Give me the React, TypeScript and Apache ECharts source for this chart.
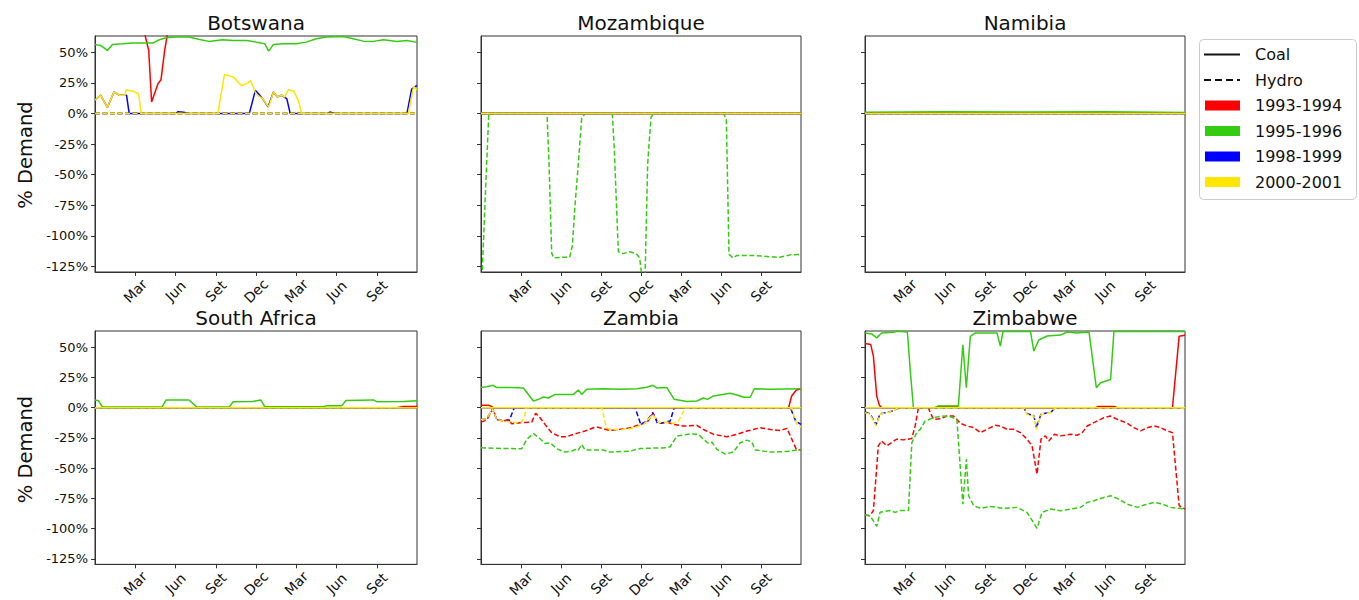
import React, { useEffect, useRef } from "react";
import * as echarts from "echarts";

// ---------- axis / legend data ----------
const monthTicks = [3, 6, 9, 12, 15, 18, 21];
const monthLabels = ["Mar", "Jun", "Set", "Dec", "Mar", "Jun", "Set"];
const yTicks = [50, 25, 0, -25, -50, -75, -100, -125];
const periods = ["1993-1994", "1995-1996", "1998-1999", "2000-2001"];
const periodColors = ["#ff0000", "#33cc11", "#0000ff", "#ffe600"];
const countries = ["Botswana", "Mozambique", "Namibia", "South Africa", "Zambia", "Zimbabwe"];

// x = months since start of the window, y = % demand
const flat0 = [[0, 0], [24, 0]];

// ---------- Botswana ----------
const bwCoal93 = [[0, 80], [3.55, 80], [3.75, 63], [4.0, 52], [4.22, 9.5], [4.7, 24.5], [4.92, 27.7], [5.2, 52], [5.4, 65], [5.6, 80], [24, 80]];
const bwCoal95 = [[0, 56.5], [0.42, 55.7], [0.92, 51.6], [1.3, 56.5], [2.05, 57], [2.8, 57.6], [3.55, 57.6], [4.3, 57.6], [4.8, 60.3], [5.3, 62], [6.0, 62.5], [7.0, 62.5], [7.8, 60.6], [8.5, 59], [9.5, 60.3], [10.3, 59.8], [11.3, 59.8], [12.0, 58.4], [12.65, 57], [12.95, 51], [13.3, 56.5], [14.0, 57], [15.0, 57], [15.75, 58.4], [16.5, 61.1], [17.25, 62.5], [18.5, 63], [19.25, 61.1], [20.0, 59.2], [20.75, 59], [21.5, 60.3], [22.5, 59], [23.25, 59.8], [24, 58.2]];
const bwCoal98 = [[0, 11], [0.42, 15], [0.92, 5], [1.42, 17.7], [1.8, 15], [2.35, 15], [2.55, 0], [6.0, 0], [6.2, 1.5], [6.6, 1], [7.0, 0], [11.5, 0], [11.95, 19], [12.2, 16], [12.5, 12], [12.9, 5.4], [13.3, 17.7], [13.6, 13.6], [13.9, 15], [14.3, 12], [14.55, 0], [17.3, 0], [17.5, 1.2], [17.9, 0], [23.25, 0], [23.6, 20], [24, 23]];
const bwCoal00 = [[0, 11], [0.42, 15], [0.92, 5], [1.42, 17.7], [1.8, 15], [2.25, 15], [2.3, 19.5], [2.9, 18], [3.25, 16], [3.45, 0], [9.15, 0], [9.65, 32], [10.3, 30], [10.9, 23], [11.3, 24.5], [11.6, 27], [12.0, 16], [12.5, 12], [12.95, 5.4], [13.3, 17.7], [13.6, 13.6], [13.9, 15], [14.15, 13.5], [14.4, 19.5], [14.8, 18.5], [15.15, 11], [15.4, 0], [23.35, 0], [23.75, 22], [24, 19.5]];

// ---------- Mozambique ----------
const mzHydro95 = [[0, -140], [0.1, -128], [0.35, -60], [0.58, -1], [0.65, 0], [4.95, 0], [5.1, -40], [5.3, -114], [5.45, -118], [6.0, -117.5], [6.65, -117.5], [6.85, -108], [7.05, -75], [7.3, -41], [7.55, -4], [7.8, 0], [9.85, 0], [10.0, -30], [10.3, -113], [10.65, -114.5], [11.15, -113], [11.65, -114.5], [11.9, -118], [12.05, -132], [12.3, -135], [12.5, -41], [12.75, -3], [12.95, 0], [18.2, 0], [18.4, -5], [18.6, -115], [18.9, -118], [19.2, -116], [20.45, -116], [21.7, -117], [22.4, -117.5], [23.2, -115.5], [24, -115]];

// ---------- Namibia ----------
const nmCoal95 = [[0, 1], [6, 1.5], [12, 1.2], [18, 1.5], [24, 0.8]];

// ---------- South Africa ----------
const saCoal93 = [[0, 0], [22.5, 0], [23, 1], [24, 1]];
const saCoal95 = [[0, 6.4], [0.25, 5.8], [0.55, 0.8], [5.0, 0.5], [5.3, 6.4], [7.0, 6.4], [7.6, 0.5], [10.0, 0.5], [10.3, 5], [11.75, 5.2], [12.35, 6.4], [12.65, 0.8], [17.0, 0.8], [17.3, 1.7], [18.4, 1.7], [18.7, 6], [20.75, 6.4], [21.0, 5], [23.0, 5.2], [24, 5.8]];

// ---------- Zambia ----------
const zmCoal93 = [[0, 2], [0.55, 2], [0.7, 1.5], [0.93, 0], [23.07, 0], [23.3, 9.7], [23.65, 14.6], [24, 15.7]];
const zmCoal95 = [[0, 16.6], [0.43, 17.4], [0.93, 18.5], [1.18, 16.6], [2.18, 16.6], [3.18, 16.3], [3.93, 5.5], [4.3, 6.9], [4.68, 8.8], [5.05, 8], [5.55, 11], [6.93, 11], [7.3, 14.6], [7.56, 11], [7.93, 15.2], [9.18, 15.7], [10.43, 15.2], [11.69, 15.7], [12.44, 16.9], [12.89, 18.5], [13.19, 16.3], [13.94, 16.6], [14.49, 6.9], [15.44, 5.2], [16.19, 5.5], [16.69, 8], [16.99, 6.9], [17.44, 9.7], [18.69, 11.9], [19.19, 10.5], [19.69, 8.6], [20.19, 8.6], [20.5, 15.7], [21.7, 15.2], [24, 15.7]];
const zmHydro93 = [[0, -11.9], [0.43, -10.2], [0.88, -1], [1.18, -9.7], [1.68, -11], [2.05, -9.7], [2.3, -13.3], [2.93, -12.4], [3.8, -11.9], [4.1, -4.7], [4.43, -8.3], [4.8, -13.8], [5.3, -20.7], [5.93, -24], [6.43, -24], [6.93, -22], [7.8, -19.3], [8.43, -16.6], [8.68, -16], [9.18, -17.4], [9.68, -18.8], [10.43, -17.9], [11.19, -16.6], [11.94, -13.8], [12.44, -12.4], [12.89, -4.7], [13.32, -13], [13.94, -11.9], [14.44, -13.8], [15.19, -15.2], [16.19, -14.6], [16.69, -18], [17.44, -22], [18.44, -24], [19.19, -22], [19.94, -19.3], [20.94, -16.6], [21.7, -18], [22.45, -18.8], [22.95, -17.1], [23.32, -26.2], [23.65, -34.5], [24, -35]];
const zmHydro95 = [[0, -33.1], [1.68, -33.7], [3.05, -34], [3.43, -26.2], [3.93, -21.3], [4.43, -25.7], [4.8, -29.6], [5.18, -29], [5.68, -34], [6.3, -36.7], [6.8, -35.9], [7.18, -34], [7.3, -35], [7.56, -30.4], [7.8, -35], [9.18, -35], [9.68, -36.7], [11.19, -35.9], [11.94, -33.7], [13.94, -33.1], [14.19, -32.3], [14.69, -23.5], [15.69, -21.6], [16.32, -22.1], [16.69, -26.2], [17.07, -29.6], [17.32, -28.5], [17.69, -34.5], [18.32, -38.4], [18.94, -36.5], [19.44, -29], [19.94, -26.8], [20.32, -28.5], [20.57, -35], [21.2, -35.9], [21.7, -36.7], [22.95, -36.2], [23.65, -35], [24, -34.5]];
const zmHydro98 = [[0, -9.7], [0.43, -9], [0.88, -1], [1.18, -9.7], [1.68, -11], [2.1, -11], [2.5, 0], [11.56, 0], [11.98, -13.8], [12.44, -11], [12.89, -4], [13.24, -13], [13.69, -12.4], [14.19, -11], [14.49, 0], [23.2, 0], [23.6, -11], [24, -13.8]];
const zmHydro00 = [[0, -9.7], [0.43, -9], [0.88, -1], [1.18, -9.7], [1.68, -11], [2.3, -12], [3.0, -12.4], [3.25, -8], [3.4, 0], [9.06, 0], [9.4, -16.6], [9.68, -18], [10.43, -18], [11.19, -17.4], [11.69, -15.7], [12.19, -13.8], [12.89, -5.5], [13.32, -12.4], [13.94, -11.9], [14.44, -13], [14.82, -11], [15.32, 0], [23.3, 0], [23.55, -10], [23.8, -15.2], [24, -16]];

// ---------- Zimbabwe ----------
const zwCoal93 = [[0, 53], [0.43, 52.2], [0.63, 42.6], [0.88, 9.6], [1.08, 1.9], [1.25, 0], [5.26, 0], [5.5, 1], [6.9, 1], [7.0, 0], [17.3, 0], [17.5, 1], [18.7, 1], [18.9, 0], [23.06, 0], [23.56, 59], [24, 59.8]];
const zwCoal95 = [[0, 61.8], [0.5, 61], [0.88, 57.7], [1.25, 61.8], [2.13, 62.4], [2.38, 63.2], [3.18, 62.6], [3.4, 30], [3.63, 0], [5.26, 0], [5.5, 1.4], [6.9, 1.4], [7.0, 1], [7.34, 52], [7.6, 16.5], [7.9, 59], [8.27, 61.8], [9.9, 61.8], [10.15, 51], [10.35, 63], [10.65, 63], [12.41, 63], [12.66, 46.7], [13.03, 56], [13.66, 59.3], [14.66, 60], [15.16, 62.6], [15.9, 61.8], [16.8, 62.6], [17.35, 16.5], [17.67, 20.6], [18.42, 23.3], [18.67, 63], [24, 63]];
const zwHydro93 = [[0, -88.7], [0.38, -89.3], [0.63, -85], [1.0, -31.6], [1.25, -27.5], [1.63, -31.6], [2.0, -28.8], [2.38, -26], [2.88, -26.6], [3.51, -25.5], [3.76, -15.1], [4.01, 0], [4.76, 0], [4.89, -4.1], [5.14, -9.6], [5.64, -9.1], [6.14, -6.9], [6.64, -6.9], [6.89, -9.6], [7.14, -12.9], [7.64, -15.1], [8.15, -16.5], [8.65, -20.6], [9.15, -17.9], [9.4, -16.5], [9.77, -14.6], [10.15, -15.1], [10.65, -17.9], [11.15, -17.9], [11.65, -20.6], [12.15, -26], [12.53, -31.6], [12.9, -55], [13.2, -26], [13.53, -23.3], [13.78, -27.5], [14.21, -22], [14.66, -23.3], [15.41, -22], [15.91, -22.8], [16.29, -20.6], [16.67, -15.1], [17.17, -12.4], [17.92, -8.2], [18.42, -6.9], [18.92, -9.6], [19.67, -12.9], [20.17, -16.5], [20.67, -19.2], [21.17, -16.5], [21.68, -15.1], [22.18, -16.5], [22.68, -19.2], [23.06, -20.6], [23.56, -81], [24, -83.8]];
const zwHydro95 = [[0, -88.7], [0.38, -89.3], [0.88, -98], [1.13, -86.5], [1.88, -85], [2.26, -86.5], [2.63, -85], [3.26, -85], [3.51, -29], [3.88, -20.6], [4.14, -17.9], [4.51, -11], [5.14, -8.2], [5.76, -6.9], [6.39, -7.4], [6.89, -9.6], [7.34, -79.7], [7.6, -42.6], [7.77, -72.8], [8.15, -81], [8.65, -83.2], [9.4, -81.6], [10.4, -83.2], [11.4, -82.4], [12.15, -86.5], [12.9, -99.7], [13.28, -86.5], [13.91, -83.8], [14.66, -85.2], [15.41, -83.8], [16.17, -82.4], [16.67, -78.3], [17.17, -76.9], [17.92, -74.2], [18.42, -72.8], [18.92, -75], [19.67, -79.7], [20.43, -82.4], [20.93, -80.5], [21.68, -78.3], [22.3, -79.7], [22.93, -82.4], [23.56, -83.2], [24, -83.8]];
const zwHydro98 = [[0, -3.5], [0.38, -5], [0.83, -14], [1.13, -5], [1.63, -4], [2.13, -2.5], [2.4, -1], [2.6, 0], [11.9, 0], [12.15, -5], [12.66, -6.5], [12.86, -16.5], [13.21, -5], [13.91, -4], [14.2, -1], [14.4, 0], [24, 0]];
const zwHydro00 = [[0, -4.1], [0.38, -5.5], [0.83, -15.1], [1.13, -5.5], [1.63, -4.1], [2.13, -2.7], [2.5, 0], [11.9, 0], [12.15, -5.5], [12.66, -6.9], [12.86, -17.9], [13.21, -5.5], [13.91, -4.1], [14.3, 0], [23.7, 0], [24, -1.5]];

// per panel: [1993-94, 1995-96, 1998-99, 2000-01]
const coalByCountry = [
  [bwCoal93, bwCoal95, bwCoal98, bwCoal00],
  [flat0, flat0, flat0, flat0],
  [flat0, nmCoal95, flat0, flat0],
  [saCoal93, saCoal95, flat0, flat0],
  [zmCoal93, zmCoal95, flat0, flat0],
  [zwCoal93, zwCoal95, flat0, flat0],
];
const hydroByCountry = [
  [flat0, flat0, flat0, flat0],
  [flat0, mzHydro95, flat0, flat0],
  [flat0, flat0, flat0, flat0],
  [flat0, flat0, flat0, flat0],
  [zmHydro93, zmHydro95, zmHydro98, zmHydro00],
  [zwHydro93, zwHydro95, zwHydro98, zwHydro00],
];

// ---------- layout ----------
const colLeft = [95, 481, 865];
const colWidth = [322, 320, 320];
const rowTop = [36, 331];
const rowHeight = [236, 235];
const Y_MIN = -129.5;
const Y_MAX = 63.4;
const FONT = "DejaVu Sans";
const FRAME = "#333333";

export default function App() {
  const ref = useRef<HTMLDivElement>(null);

  useEffect(() => {
    if (!ref.current) return;
    const chart = echarts.init(ref.current, null, { renderer: "svg" });

    const grids: any[] = [];
    const xAxes: any[] = [];
    const yAxes: any[] = [];
    const series: any[] = [];
    const graphics: any[] = [];

    countries.forEach((name, i) => {
      const r = Math.floor(i / 3);
      const c = i % 3;
      grids.push({
        left: colLeft[c],
        top: rowTop[r],
        width: colWidth[c],
        height: rowHeight[r],
        show: true,
        borderColor: FRAME,
        borderWidth: 1,
        backgroundColor: "transparent",
        containLabel: false,
      });
      xAxes.push({
        type: "value",
        gridIndex: i,
        min: 0,
        max: 24,
        splitLine: { show: false },
        axisLine: { show: true, onZero: false, lineStyle: { color: FRAME, width: 1 } },
        axisTick: { show: true, customValues: monthTicks, length: 4, lineStyle: { color: FRAME } },
        axisLabel: {
          show: true,
          customValues: monthTicks,
          rotate: 45,
          align: "center",
          verticalAlign: "middle",
          margin: 19,
          fontSize: 14,
          fontFamily: FONT,
          color: "#111",
          formatter: (v: number) => {
            const k = monthTicks.indexOf(Math.round(v));
            return k >= 0 ? monthLabels[k] : "";
          },
        },
      });
      yAxes.push({
        type: "value",
        gridIndex: i,
        min: Y_MIN,
        max: Y_MAX,
        splitLine: { show: false },
        axisLine: { show: true, onZero: false, lineStyle: { color: FRAME, width: 1 } },
        axisTick: { show: true, customValues: yTicks, length: 4, lineStyle: { color: FRAME } },
        axisLabel: {
          show: c === 0,
          customValues: yTicks,
          margin: 7,
          fontSize: 13,
          fontFamily: FONT,
          color: "#111",
          formatter: (v: number) => `${Math.round(v)}%`,
        },
      });

      periods.forEach((p, k) => {
        series.push({
          type: "line",
          name: `${p} coal`,
          xAxisIndex: i,
          yAxisIndex: i,
          data: coalByCountry[i][k],
          showSymbol: false,
          symbol: "none",
          clip: true,
          silent: true,
          lineStyle: { color: periodColors[k], width: 1.5, type: "solid" },
        });
        series.push({
          type: "line",
          name: `${p} hydro`,
          xAxisIndex: i,
          yAxisIndex: i,
          data: hydroByCountry[i][k],
          showSymbol: false,
          symbol: "none",
          clip: true,
          silent: true,
          lineStyle: { color: periodColors[k], width: 1.5, type: [5, 2.5] },
        });
      });

      // panel title
      graphics.push({
        type: "text",
        x: colLeft[c] + colWidth[c] / 2,
        y: rowTop[r] - 13,
        style: {
          text: name,
          fontSize: 20,
          fontFamily: FONT,
          fill: "#111",
          textAlign: "center",
          textVerticalAlign: "middle",
        },
      });
      if (c === 0) {
        graphics.push({
          type: "text",
          x: 25,
          y: rowTop[r] + rowHeight[r] / 2 + 1,
          rotation: Math.PI / 2,
          style: {
            text: "% Demand",
            fontSize: 19.5,
            fontFamily: FONT,
            fill: "#111",
            textAlign: "center",
            textVerticalAlign: "middle",
          },
        });
      }
    });

    // legend
    const legendX = 1199.5;
    const legendY = 39.5;
    const rows = [54.5, 80, 105.5, 131, 156.5, 182];
    graphics.push({
      type: "rect",
      shape: { x: legendX, y: legendY, width: 157, height: 160, r: 4 },
      style: { fill: "#ffffff", stroke: "#cccccc", lineWidth: 1 },
    });
    graphics.push({
      type: "line",
      shape: { x1: 1204, y1: rows[0], x2: 1240, y2: rows[0] },
      style: { stroke: "#111", lineWidth: 2 },
    });
    graphics.push({
      type: "line",
      shape: { x1: 1204, y1: rows[1], x2: 1240, y2: rows[1] },
      style: { stroke: "#111", lineWidth: 2, lineDash: [7, 4] },
    });
    const legendTexts = ["Coal", "Hydro", ...periods];
    legendTexts.forEach((t, k) => {
      if (k >= 2) {
        graphics.push({
          type: "rect",
          shape: { x: 1205, y: rows[k] - 5, width: 35, height: 10 },
          style: { fill: periodColors[k - 2] },
        });
      }
      graphics.push({
        type: "text",
        x: 1255,
        y: rows[k],
        style: {
          text: t,
          fontSize: 16,
          fontFamily: FONT,
          fill: "#111",
          textAlign: "left",
          textVerticalAlign: "middle",
        },
      });
    });

    chart.setOption({
      animation: false,
      backgroundColor: "#ffffff",
      grid: grids,
      xAxis: xAxes,
      yAxis: yAxes,
      series,
      graphic: graphics,
    });

    return () => chart.dispose();
  }, []);

  return (
    <div
      ref={ref}
      style={{ position: "absolute", left: 0, top: 0, width: 1359, height: 600 }}
    />
  );
}
